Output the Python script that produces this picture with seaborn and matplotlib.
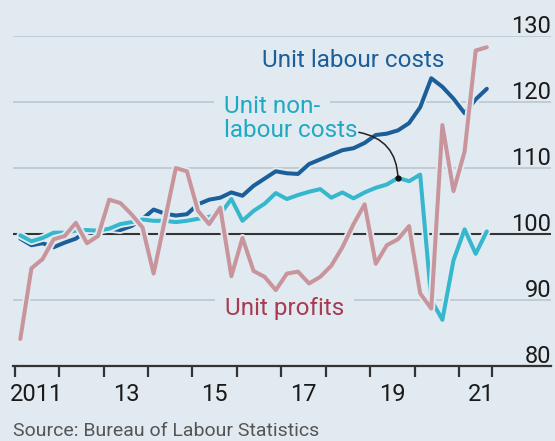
import seaborn as sns
import matplotlib.pyplot as plt
import matplotlib.patheffects as pe
import matplotlib.transforms as mtransforms
import pandas as pd

# quarterly index, 2011 Q1 to 2021 Q3 (=100 baseline)
labour = [99.3, 98.3, 98.6, 98.0, 98.7, 99.3, 100.5, 100.8, 100.8, 100.6, 101.2,
          102.3, 103.7, 103.1, 102.8, 103.0, 104.5, 105.2, 105.5, 106.3, 105.8,
          107.3, 108.4, 109.5, 109.2, 109.1, 110.6, 111.3, 112.0, 112.7, 113.0,
          113.8, 115.0, 115.2, 115.7, 116.8, 119.2, 123.6, 122.3, 120.5, 118.3,
          120.4, 122.0]
non_labour = [99.8, 98.9, 99.4, 100.2, 100.2, 100.5, 100.6, 100.5, 100.8, 101.5, 101.8,
              102.2, 102.0, 102.0, 101.8, 102.0, 102.3, 102.6, 103.0, 105.3, 102.0,
              103.5, 104.6, 106.2, 105.3, 105.9, 106.4, 106.8, 105.5, 106.3, 105.4,
              106.3, 107.0, 107.5, 108.5, 108.0, 109.0, 90.0, 87.0, 96.0, 100.7,
              97.0, 100.4]
profits = [84.1, 94.8, 96.2, 99.2, 99.7, 101.7, 98.6, 99.7, 105.2, 104.7, 103.0,
           101.0, 94.0, 102.0, 110.0, 109.5, 103.5, 101.5, 104.0, 93.6, 99.4,
           94.4, 93.5, 91.5, 94.0, 94.3, 92.5, 93.5, 95.2, 98.0, 101.5,
           104.5, 95.5, 98.3, 99.2, 101.2, 91.0, 88.7, 116.5, 106.5, 112.5,
           127.8, 128.3]
quarters = [2011.125 + 0.25 * i for i in range(len(labour))]

series_names = ['Unit labour costs', 'Unit non-labour costs', 'Unit profits']
year_ticks = list(range(2011, 2022)) + [2021.75]
label_pos = [2011.5, 2013.5, 2015.5, 2017.5, 2019.5, 2021.5]
year_labels = ['2011', '13', '15', '17', '19', '21']
y_ticks = [80, 90, 100, 110, 120, 130]

df = pd.DataFrame({
    'quarter': quarters * 3,
    'value': labour + non_labour + profits,
    'series': [s for s in series_names for _ in quarters],
})

bg = '#e1eaf0'
navy = '#1b5e99'
cyan = '#35b7ce'
rose = '#c9959d'

sns.set_style('white')
plt.rcParams['font.family'] = ['Roboto', 'DejaVu Sans']

fig = plt.figure(figsize=(5.55, 4.41), dpi=100, facecolor=bg)
ax = fig.add_axes([13 / 555, 75 / 441, 538 / 555, 330 / 441])
ax.set_facecolor(bg)

sns.lineplot(data=df, x='quarter', y='value', hue='series', hue_order=series_names,
             palette=[navy, cyan, rose], linewidth=2.9, legend=False, ax=ax)
for line in ax.lines:
    line.set_path_effects([pe.Stroke(linewidth=5.6, foreground=bg), pe.Normal()])
    line.set_solid_joinstyle('round')

ax.set_xlim(2010.96, 2023.07)
ax.set_ylim(80, 130)
ax.set(xlabel='', ylabel='')

# gridlines and baseline
ax.set_axisbelow(True)
ax.set_yticks(y_ticks)
ax.grid(axis='y', color='#b8c5cc', linewidth=1.1)
ax.grid(axis='x', visible=False)
ax.axhline(100, color='#333333', linewidth=1.5, zorder=1.8)
for side in ['top', 'left', 'right']:
    ax.spines[side].set_visible(False)
ax.spines['bottom'].set_color('#333333')
ax.spines['bottom'].set_linewidth(1.6)

# x axis: ticks at year boundaries, labels in the middle of the year
ax.set_xticks(year_ticks, labels=[''] * len(year_ticks))
ax.set_xticks(label_pos, labels=year_labels, minor=True)
ax.tick_params(axis='x', which='both', bottom=True, labelbottom=True)
ax.tick_params(axis='x', which='major', length=8, width=1.6, color='#333333', direction='out')
ax.tick_params(axis='x', which='minor', length=0, pad=12, labelsize=17, labelcolor='#1a1a1a')

# y axis labels on the right, sitting on top of gridlines
ax.yaxis.tick_right()
ax.tick_params(axis='y', length=0, pad=0, labelsize=17, labelcolor='#1a1a1a')
for t in ax.yaxis.get_major_ticks():
    lab = t.label2
    lab.set_ha('right')
    lab.set_va('baseline')
    lab.set_transform(lab.get_transform() +
                      mtransforms.ScaledTranslation(0, 0.03, fig.dpi_scale_trans))

# series labels
box = dict(boxstyle='square,pad=0.4', fc=bg, ec='none')
ax.text(2016.56, 125.3, 'Unit labour costs', color=navy, fontsize=17.5, va='baseline')
ax.text(2015.71, 118.3, 'Unit non-', color='#20a9c3', fontsize=17.5, va='baseline',
        bbox=box, zorder=1.5)
nl = ax.text(2015.71, 114.7, 'labour costs', color='#20a9c3', fontsize=17.5,
             va='baseline')
ax.text(2015.73, 87.7, 'Unit profits', color='#a83a52', fontsize=17.5, va='baseline',
        bbox=box, zorder=1.5)

ax.annotate('', xy=(quarters[34], non_labour[34]), xytext=(1.01, 0.42), textcoords=nl,
            arrowprops=dict(arrowstyle='-', connectionstyle='arc3,rad=-0.4',
                            color='#222222', lw=1.1, shrinkA=0, shrinkB=0))
ax.plot([quarters[34]], [non_labour[34]], 'o', color='#111111', markersize=3.5, zorder=5)

fig.text(13 / 555, 5 / 441, 'Source: Bureau of Labour Statistics', fontsize=14,
         color='#555555', va='baseline')

fig.savefig('out.png', dpi=100, facecolor=bg)
